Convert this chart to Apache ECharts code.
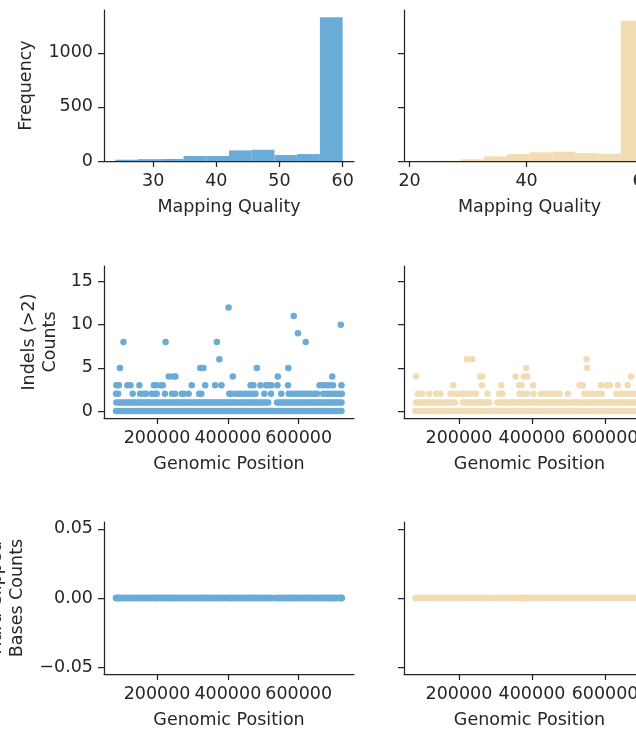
<!DOCTYPE html>
<html><head><meta charset="utf-8">
<script src="https://cdn.jsdelivr.net/npm/echarts@6/dist/echarts.min.js"></script>
<style>html,body{margin:0;padding:0;background:#fff;overflow:hidden}#c{width:636px;height:738px}</style>
</head><body><div id="c"></div>
<script>
// ---------- DATA ----------
const KB = 1000;
// Mapping quality histograms (bin edges + counts)
const mqEdgesA = [24, 27.6, 31.2, 34.8, 38.4, 42, 45.6, 49.2, 52.8, 56.4, 60];
const mqCountsA = [12, 17, 19, 46, 46, 98, 104, 55, 64, 1330];
const mqEdgesB = [21, 24.9, 28.8, 32.7, 36.6, 40.5, 44.4, 48.3, 52.2, 56.1, 60];
const mqCountsB = [2, 3, 15, 43, 64, 80, 86, 73, 67, 1296];

// Indel (>2) counts per genomic position (positions in kb), sample A (blue)
const indelA_count0 = [84,89,95,101,106,112,118,123,129,135,141,146,152,158,163,169,175,181,186,192,198,203,209,215,221,226,232,238,243,249,255,261,266,272,278,283,289,295,301,306,312,318,323,329,335,341,346,352,358,363,369,375,381,386,392,398,403,409,415,421,426,432,438,443,449,455,461,466,472,478,483,489,495,501,506,512,518,523,529,535,541,546,552,558,563,569,575,581,586,592,598,603,609,615,621,626,632,638,643,649,655,661,666,672,678,683,689,695,701,706,712,718,721];
const indelA_count1 = [85,91,96,102,108,114,119,125,131,136,142,148,154,159,165,171,176,182,188,194,199,205,211,216,222,228,234,239,245,251,256,262,268,274,279,285,291,296,302,308,314,319,325,331,336,342,348,354,359,365,371,376,382,388,394,399,405,411,416,422,428,434,439,445,451,456,462,468,474,479,485,491,496,502,508,514,539,545,551,557,562,568,574,579,585,591,597,602,608,614,619,625,631,637,642,648,654,659,665,671,677,682,688,694,699,705,711,717,721];
const indelA_count2 = [84,90,131,152,163,169,185,194,199,222,242,251,270,275,289,319,325,404,409,421,431,440,450,459,469,478,503,522,551,572,581,590,599,608,617,626,635,644,652,669,678,687,696,705,714,722];
const indelA_count3 = [85,92,116,125,150,191,197,210,216,298,336,364,382,464,472,492,508,516,523,540,570,659,669,678,687,697,721];
const indelA_high = [[233,4],[246,4],[252,4],[414,4],[541,4],[695,4],[95,5],[322,5],[331,5],[482,5],[571,5],[376,6],[105,8],[224,8],[369,8],[620,8],[598,9],[719,10],[586,11],[402,12]];

// Indel (>2) counts per genomic position (positions in kb), sample B (beige)
const indelB_count0 = [81,87,93,98,104,110,116,121,127,133,139,144,150,156,162,167,173,179,185,190,196,202,208,213,219,225,231,236,242,248,254,259,265,271,277,282,288,294,300,305,311,317,323,328,334,340,346,351,357,363,369,374,380,386,392,397,403,409,415,420,426,432,438,443,449,455,461,466,472,478,484,489,495,501,507,512,518,524,530,535,541,547,553,558,564,570,576,581,587,593,599,604,610,616,622,627,633,639,645,650,656,662,668,673,679,685,691,696,702,705];
const indelB_count1 = [83,89,95,100,106,112,118,123,129,135,141,146,152,158,164,169,175,181,189,211,216,222,228,233,239,245,251,256,262,268,274,279,283,305,311,317,323,329,335,340,346,352,358,363,369,375,381,386,392,398,404,409,415,421,427,432,438,444,450,455,461,467,473,478,484,490,496,501,507,513,519,524,530,536,542,547,553,559,565,570,576,582,588,593,599,605,611,616,622,628,634,639,645,651,657,662,668,674,680,685,691,697,703];
const indelB_count2 = [88,100,119,138,149,177,188,198,209,222,232,246,278,310,319,366,375,386,404,425,439,451,464,475,498,543,555,567,579,591,631,643,655,667,679,692,700];
const indelB_count3 = [184,263,316,365,372,403,530,539,588,605,613,635,662];
const indelB_high = [[83,4],[258,4],[264,4],[355,4],[378,4],[387,4],[671,4],[384,5],[551,5],[222,6],[237,6],[549,6],[697,16]];

// Hard clipped bases count: zero at every position
const HARD_CLIP_COUNT = 0;

// Axis tick values
const mqTicksA = [30, 40, 50, 60];
const mqTicksB = [20, 40, 60];
const freqTicks = [0, 500, 1000];
const posTicks = [200000, 400000, 600000];
const indelTicks = [0, 5, 10, 15];
const clipTicks = [-0.05, 0, 0.05];

// ---------- STYLE ----------
const BLUE = '#6aabd7';
const BEIGE = '#f2dcb3';
const INK = '#262626';
const FONT = 'DejaVu Sans';
const TICK_FS = 17.5, NAME_FS = 17.5;

const gridBase = {containLabel:false, outerBoundsMode:'none'};
const grids = [
  Object.assign({left:104, top:10,  width:250, height:151}, gridBase),
  Object.assign({left:404, top:10,  width:251, height:151}, gridBase),
  Object.assign({left:104, top:266, width:250, height:152}, gridBase),
  Object.assign({left:404, top:266, width:251, height:152}, gridBase),
  Object.assign({left:104, top:522, width:250, height:152}, gridBase),
  Object.assign({left:404, top:522, width:251, height:152}, gridBase)
];

function xAx(i, min, max, ticks, name, fmt) {
  return {
    type:'value', gridIndex:i, min, max, position:'bottom',
    splitLine:{show:false},
    axisLine:{show:true, onZero:false, lineStyle:{color:INK, width:1.25}},
    axisTick:{show:true, length:6, inside:false, customValues:ticks, lineStyle:{color:INK, width:1.25}},
    axisLabel:{show:true, customValues:ticks, margin:11, color:INK, fontSize:TICK_FS, fontFamily:FONT, formatter:fmt},
    name, nameLocation:'middle', nameGap:37,
    nameTextStyle:{color:INK, fontSize:NAME_FS, fontFamily:FONT}
  };
}
function yAx(i, min, max, ticks, showLabels, name, nameGap, fmt) {
  return {
    type:'value', gridIndex:i, min, max, position:'left',
    splitLine:{show:false},
    axisLine:{show:true, onZero:false, lineStyle:{color:INK, width:1.25}},
    axisTick:{show:true, length:6, inside:false, customValues:ticks, lineStyle:{color:INK, width:1.25}},
    axisLabel:{show:showLabels, customValues:ticks, margin:11, color:INK, fontSize:TICK_FS, fontFamily:FONT, formatter:fmt},
    name: name || '', nameLocation:'middle', nameGap: nameGap || 0, nameRotate:90,
    nameTextStyle:{color:INK, fontSize:NAME_FS, fontFamily:FONT, lineHeight:21, align:'center'}
  };
}
const fmtInt = v => String(Math.round(v));
const fmtClip = v => (Math.abs(v) < 1e-9 ? '0.00' : v.toFixed(2).replace('-', '\u2212'));

function histSeries(i, edges, counts, color) {
  const data = counts.map((c, k) => [edges[k], edges[k+1], c]);
  return {
    type:'custom', xAxisIndex:i, yAxisIndex:i, data, clip:true, silent:true,
    encode:{x:[0,1], y:2},
    renderItem(params, api) {
      const p0 = api.coord([api.value(0), api.value(2)]);
      const p1 = api.coord([api.value(1), 0]);
      return {type:'rect', shape:{x:p0[0], y:p0[1], width:p1[0]-p0[0], height:p1[1]-p0[1]}, style:{fill:color}};
    }
  };
}
function indelData(c0, c1, c2, c3, high) {
  return [].concat(
    c0.map(p => [p*KB, 0]), c1.map(p => [p*KB, 1]),
    c2.map(p => [p*KB, 2]), c3.map(p => [p*KB, 3]),
    high.map(d => [d[0]*KB, d[1]]));
}
function clipData(lists) {
  const out = [];
  lists.forEach(l => l.forEach(p => out.push([p*KB, HARD_CLIP_COUNT])));
  return out;
}
function scatter(i, data, color) {
  return {type:'scatter', xAxisIndex:i, yAxisIndex:i, data, symbol:'circle', symbolSize:6.5,
    itemStyle:{color, opacity:1}, silent:true, animation:false, clip:true, large:false};
}

const posMinA = 50000, posMaxA = 756400;
const posMinB = 49725, posMaxB = 736565;

const option = {
  animation:false,
  grid: grids,
  xAxis: [
    xAx(0, 22.2, 61.8, mqTicksA, 'Mapping Quality', fmtInt),
    xAx(1, 19.05, 61.95, mqTicksB, 'Mapping Quality', fmtInt),
    xAx(2, posMinA, posMaxA, posTicks, 'Genomic Position', fmtInt),
    xAx(3, posMinB, posMaxB, posTicks, 'Genomic Position', fmtInt),
    xAx(4, posMinA, posMaxA, posTicks, 'Genomic Position', fmtInt),
    xAx(5, posMinB, posMaxB, posTicks, 'Genomic Position', fmtInt)
  ],
  yAxis: [
    yAx(0, 0, 1396, freqTicks, true, 'Frequency', 67, fmtInt),
    yAx(1, 0, 1396, freqTicks, false),
    yAx(2, -0.8, 16.8, indelTicks, true, 'Indels (>2)\nCounts', 43, fmtInt),
    yAx(3, -0.8, 16.8, indelTicks, false),
    yAx(4, -0.055, 0.055, clipTicks, true, 'Hard Clipped\nBases Counts', 76, fmtClip),
    yAx(5, -0.055, 0.055, clipTicks, false)
  ],
  series: [
    histSeries(0, mqEdgesA, mqCountsA, BLUE),
    histSeries(1, mqEdgesB, mqCountsB, BEIGE),
    scatter(2, indelData(indelA_count0, indelA_count1, indelA_count2, indelA_count3, indelA_high), BLUE),
    scatter(3, indelData(indelB_count0, indelB_count1, indelB_count2, indelB_count3, indelB_high), BEIGE),
    scatter(4, clipData([indelA_count0, indelA_count1, indelA_count2, indelA_count3, indelA_high.map(d => d[0])]), BLUE),
    scatter(5, clipData([indelB_count0, indelB_count1, indelB_count2, indelB_count3, indelB_high.map(d => d[0])]), BEIGE)
  ]
};
const chart = echarts.init(document.getElementById('c'), null, {renderer:'canvas'});
chart.setOption(option);
</script>
</body></html>
